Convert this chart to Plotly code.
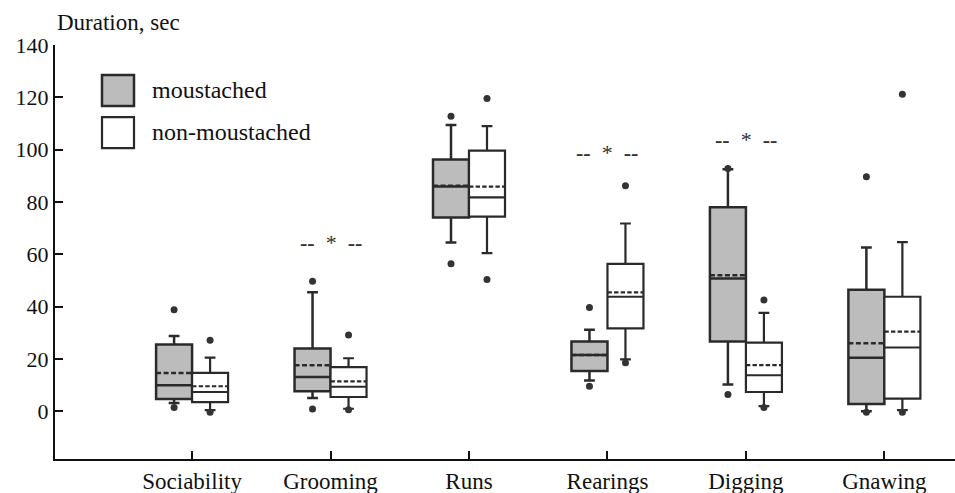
import plotly.graph_objects as go

categories = ["Sociability", "Grooming", "Runs", "Rearings", "Digging", "Gnawing"]

# moustached
m_q1 = [4.7, 7.7, 74.1, 15.4, 26.7, 2.8]
m_med = [10.0, 13.1, 85.9, 21.5, 50.8, 20.5]
m_q3 = [25.6, 24.0, 96.2, 26.7, 78.0, 46.5]
m_mean = [14.7, 17.6, 86.2, 21.5, 52.0, 26.0]
m_low = [3.2, 5.1, 64.5, 11.8, 10.3, 0.0]
m_high = [28.8, 45.5, 109.4, 31.2, 92.5, 62.6]
m_out_x = ["Sociability", "Sociability", "Grooming", "Grooming", "Runs", "Runs",
           "Rearings", "Rearings", "Digging", "Digging", "Gnawing", "Gnawing"]
m_out_y = [38.8, 1.5, 49.7, 0.9, 112.8, 56.4, 39.7, 9.6, 92.8, 6.4, 89.7, -0.3]

# non-moustached
n_q1 = [3.5, 5.5, 74.4, 31.7, 7.4, 4.9]
n_med = [7.4, 9.4, 81.8, 43.8, 13.8, 24.4]
n_q3 = [14.7, 16.9, 99.6, 56.4, 26.3, 43.8]
n_mean = [9.6, 11.5, 85.9, 45.5, 17.7, 30.5]
n_low = [0.5, 1.0, 60.5, 19.9, 2.0, 0.5]
n_high = [20.5, 20.3, 109.0, 71.8, 37.6, 64.7]
n_out_x = ["Sociability", "Sociability", "Grooming", "Grooming", "Runs", "Runs",
           "Rearings", "Rearings", "Digging", "Digging", "Gnawing", "Gnawing"]
n_out_y = [27.2, -0.3, 29.2, 0.6, 119.6, 50.4, 86.2, 18.6, 42.6, 1.5, 121.2, -0.3]

sig_categories = ["Grooming", "Rearings", "Digging"]
sig_y = [64.5, 98.8, 103.8]

y_ticks = [0, 20, 40, 60, 80, 100, 120, 140]

SERIF = "Liberation Serif, Times New Roman, serif"
OFF = 0.13
BW = 0.26
idx = {c: i for i, c in enumerate(categories)}

fig = go.Figure()

fig.add_trace(go.Box(
    name="moustached",
    x=[i - OFF for i in range(len(categories))],
    q1=m_q1, median=m_med, q3=m_q3, mean=m_mean,
    lowerfence=m_low, upperfence=m_high,
    width=BW, whiskerwidth=0.3, boxpoints=False,
    fillcolor="#bcbcbc", line=dict(color="#2a2a2a", width=2.5),
    showlegend=False,
))
fig.add_trace(go.Box(
    name="non-moustached",
    x=[i + OFF for i in range(len(categories))],
    q1=n_q1, median=n_med, q3=n_q3, mean=n_mean,
    lowerfence=n_low, upperfence=n_high,
    width=BW, whiskerwidth=0.3, boxpoints=False,
    fillcolor="white", line=dict(color="#2a2a2a", width=2.2),
    showlegend=False,
))

fig.add_trace(go.Scatter(
    x=[idx[c] - OFF for c in m_out_x], y=m_out_y, mode="markers",
    marker=dict(color="#333333", size=7), showlegend=False, hoverinfo="y",
))
fig.add_trace(go.Scatter(
    x=[idx[c] + OFF for c in n_out_x], y=n_out_y, mode="markers",
    marker=dict(color="#333333", size=7), showlegend=False, hoverinfo="y",
))

for c, yv in zip(sig_categories, sig_y):
    fig.add_annotation(x=idx[c], y=yv, text="<b>--</b>  *  <b>--</b>", showarrow=False,
                       font=dict(family=SERIF, size=22, color="#333333"),
                       xref="x", yref="y")

# legend (drawn as paper-positioned shapes + text)
PH = 413.7
legend_items = [("moustached", "#bcbcbc", 2.5), ("non-moustached", "white", 2.2)]
for k, (lab, fc, lw) in enumerate(legend_items):
    y0 = 75 + k * 42
    fig.add_shape(type="rect", xref="paper", yref="paper",
                  x0=(102 - 55) / 900, x1=(134 - 55) / 900,
                  y0=1 - (y0 + 31 - 45) / PH, y1=1 - (y0 - 45) / PH,
                  fillcolor=fc, line=dict(color="#2a2a2a", width=lw))
    fig.add_annotation(xref="paper", yref="paper", x=(150 - 55) / 900,
                       y=1 - (y0 + 15 - 45) / PH, text=lab, showarrow=False,
                       xanchor="left", yanchor="middle",
                       font=dict(family=SERIF, size=24, color="#111111"))

fig.add_annotation(xref="paper", yref="paper", x=0, y=1, yshift=8,
                   text="Duration, sec", showarrow=False, xanchor="left",
                   yanchor="bottom",
                   font=dict(family=SERIF, size=23, color="#111111"))

fig.update_layout(
    width=955, height=493,
    margin=dict(l=55, r=0, t=45, b=34),
    plot_bgcolor="white", paper_bgcolor="white",
    font=dict(family=SERIF, size=22, color="#111111"),
    boxmode="overlay",
)
fig.update_xaxes(
    range=[-0.99, 5.51], tickvals=list(range(len(categories))), ticktext=categories,
    showline=True, linecolor="#111111", linewidth=2, ticks="inside", ticklen=8,
    tickwidth=1.5, tickcolor="#111111", showgrid=False, zeroline=False,
    tickfont=dict(size=23),
)
fig.update_yaxes(
    range=[-18.2, 140], tickvals=y_ticks, showline=True, linecolor="#111111",
    linewidth=2, ticks="inside", ticklen=8, tickwidth=1.5, tickcolor="#111111",
    showgrid=False, zeroline=False, tickfont=dict(size=22),
)

fig.write_html("out.html", config={"displayModeBar": False},
               post_script="document.body.style.margin='0';document.body.style.overflow='hidden';")
